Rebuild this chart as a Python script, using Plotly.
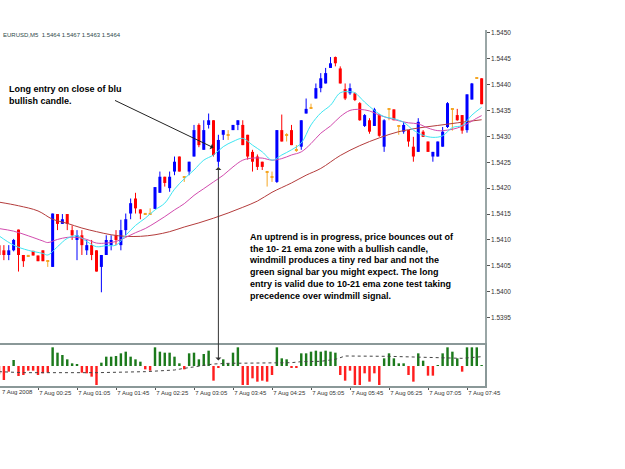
import plotly.graph_objects as go

# ---------------- data (EURUSD M5, bar index 0 = 23:45) ----------------
bar_idx = list(range(100))
opens = [1.54090,1.54080,1.54071,1.54080,1.54120,1.54071,1.54070,1.54079,1.54070,1.54080,
         1.54059,1.54048,1.54150,1.54131,1.54150,1.54119,1.54100,1.54109,1.54080,1.54090,
         1.54080,1.54048,1.54071,1.54090,1.54109,1.54090,1.54119,1.54151,1.54180,1.54159,
         1.54151,1.54151,1.54160,1.54191,1.54222,1.54200,1.54232,1.54261,1.54222,1.54232,
         1.54261,1.54322,1.54274,1.54322,1.54331,1.54251,1.54303,1.54303,1.54312,1.54322,
         1.54322,1.54303,1.54270,1.54261,1.54251,1.54232,1.54222,1.54212,1.54312,1.54303,
         1.54312,1.54274,1.54280,1.54344,1.54355,1.54373,1.54393,1.54402,1.54432,1.54453,
         1.54431,1.54391,1.54383,1.54383,1.54364,1.54320,1.54331,1.54320,1.54341,1.54280,
         1.54352,1.54352,1.54320,1.54309,1.54312,1.54280,1.54270,1.54309,1.54290,1.54261,
         1.54261,1.54280,1.54318,1.54353,1.54341,1.54341,1.54312,1.54371,1.54412,1.54412]
highs = [1.54095,1.54090,1.54090,1.54102,1.54120,1.54071,1.54070,1.54079,1.54070,1.54080,
         1.54059,1.54151,1.54150,1.54150,1.54150,1.54128,1.54119,1.54119,1.54100,1.54100,
         1.54080,1.54071,1.54109,1.54109,1.54119,1.54139,1.54151,1.54180,1.54191,1.54159,
         1.54151,1.54161,1.54202,1.54232,1.54222,1.54232,1.54261,1.54261,1.54222,1.54251,
         1.54322,1.54325,1.54331,1.54344,1.54331,1.54303,1.54312,1.54312,1.54322,1.54331,
         1.54331,1.54303,1.54274,1.54265,1.54251,1.54232,1.54232,1.54312,1.54342,1.54306,
         1.54322,1.54283,1.54331,1.54373,1.54363,1.54402,1.54422,1.54432,1.54453,1.54454,
         1.54435,1.54402,1.54402,1.54385,1.54366,1.54343,1.54335,1.54355,1.54343,1.54333,
         1.54352,1.54352,1.54320,1.54328,1.54312,1.54299,1.54335,1.54312,1.54290,1.54270,
         1.54290,1.54318,1.54366,1.54353,1.54353,1.54341,1.54381,1.54403,1.54412,1.54412]
lows = [1.54060,1.54061,1.54061,1.54078,1.54039,1.54048,1.54070,1.54070,1.54059,1.54059,
        1.54048,1.54048,1.54119,1.54131,1.54119,1.54100,1.54061,1.54071,1.54071,1.54061,
        1.54039,1.53999,1.54071,1.54080,1.54090,1.54080,1.54109,1.54140,1.54151,1.54140,
        1.54151,1.54151,1.54160,1.54191,1.54203,1.54193,1.54225,1.54232,1.54212,1.54225,
        1.54261,1.54279,1.54274,1.54315,1.54261,1.54241,1.54293,1.54293,1.54312,1.54312,
        1.54283,1.54255,1.54232,1.54235,1.54235,1.54203,1.54212,1.54210,1.54290,1.54290,
        1.54283,1.54270,1.54274,1.54344,1.54355,1.54373,1.54385,1.54402,1.54432,1.54435,
        1.54402,1.54370,1.54380,1.54368,1.54330,1.54318,1.54305,1.54320,1.54299,1.54270,
        1.54331,1.54331,1.54303,1.54305,1.54280,1.54251,1.54270,1.54299,1.54270,1.54251,
        1.54261,1.54280,1.54316,1.54311,1.54330,1.54305,1.54307,1.54371,1.54412,1.54362]
closes = [1.54071,1.54071,1.54080,1.54100,1.54071,1.54059,1.54070,1.54070,1.54059,1.54059,
          1.54059,1.54151,1.54131,1.54140,1.54131,1.54109,1.54109,1.54090,1.54090,1.54071,
          1.54039,1.54071,1.54100,1.54100,1.54100,1.54119,1.54140,1.54171,1.54161,1.54151,
          1.54151,1.54151,1.54202,1.54222,1.54210,1.54222,1.54251,1.54232,1.54222,1.54251,
          1.54312,1.54283,1.54312,1.54331,1.54264,1.54293,1.54312,1.54303,1.54322,1.54331,
          1.54283,1.54261,1.54251,1.54241,1.54241,1.54232,1.54222,1.54312,1.54290,1.54303,
          1.54283,1.54274,1.54331,1.54353,1.54355,1.54393,1.54412,1.54422,1.54441,1.54441,
          1.54402,1.54373,1.54393,1.54370,1.54331,1.54341,1.54309,1.54352,1.54301,1.54331,
          1.54352,1.54331,1.54320,1.54322,1.54290,1.54261,1.54328,1.54299,1.54270,1.54270,
          1.54290,1.54309,1.54364,1.54353,1.54331,1.54311,1.54381,1.54402,1.54412,1.54362]

# moving averages (bar index, price)
ema10_idx = [0,3,6,9,10,12,14,16,18,20,22,24,26,28,30,32,34,36,38,40,42,44,46,48,50,52,54,56,58,60,
             62,64,66,68,70,72,73,75,77,79,81,83,85,87,89,91,93,95,97,99]
ema10 = [1.54108,1.54090,1.54080,1.54074,1.54071,1.54087,1.54103,1.54108,1.54097,1.54087,1.54089,1.54090,
         1.54109,1.54128,1.54142,1.54158,1.54171,1.54198,1.54218,1.54235,1.54254,1.54264,1.54280,1.54290,
         1.54296,1.54283,1.54270,1.54254,1.54264,1.54274,1.54287,1.54322,1.54345,1.54360,1.54384,1.54386,
         1.54384,1.54366,1.54350,1.54338,1.54334,1.54327,1.54312,1.54302,1.54298,1.54301,1.54317,1.54321,
         1.54341,1.54356]
ema21_idx = [0,3,6,9,10,12,14,16,18,20,22,24,26,28,30,32,34,36,38,40,42,44,46,48,50,52,54,56,58,60,
             62,64,66,68,70,72,74,76,78,80,82,84,86,88,90,92,94,96,98,99]
ema21 = [1.54122,1.54117,1.54108,1.54098,1.54095,1.54101,1.54105,1.54105,1.54101,1.54094,1.54094,1.54097,
         1.54105,1.54114,1.54122,1.54133,1.54145,1.54158,1.54170,1.54186,1.54199,1.54212,1.54225,1.54241,
         1.54254,1.54258,1.54258,1.54254,1.54257,1.54264,1.54270,1.54286,1.54306,1.54320,1.54338,1.54350,
         1.54352,1.54349,1.54341,1.54335,1.54330,1.54326,1.54324,1.54316,1.54311,1.54312,1.54316,1.54324,
         1.54335,1.54340]
ema_slow_idx = [0,4,8,11,14,17,20,23,26,29,32,35,38,41,44,47,50,53,56,60,63,66,70,74,78,82,86,90,94,99]
ema_slow = [1.54173,1.54166,1.54156,1.54140,1.54132,1.54123,1.54116,1.54110,1.54107,1.54107,1.54110,
            1.54116,1.54125,1.54133,1.54142,1.54152,1.54163,1.54175,1.54192,1.54210,1.54225,1.54238,
            1.54263,1.54282,1.54297,1.54309,1.54316,1.54321,1.54326,1.54332]

# windmill histogram and its dotted signal
windmill = [-25,-42,-17,18,-30,-27,-14,-14,-27,-22,-20,56,40,33,20,8,5,-20,-22,-32,
            -57,10,28,28,30,38,43,28,20,13,-10,-14,56,43,40,40,28,8,-10,38,
            40,20,36,46,-44,-4,20,8,40,56,-57,-57,-37,-47,-44,-47,-27,56,23,20,
            -5,-6,38,38,43,46,43,46,43,40,-27,-44,-14,-57,-57,-22,-47,-22,-57,23,
            38,23,8,8,-27,-47,38,16,-29,-29,3,38,56,43,23,-17,56,56,56,3]
signal_idx = [0,5,10,20,30,36,38,41,44,47,57,60,62,66,69,71,80,87,92,95,99]
signal = [-17,-20,-20,-20,-17,-12,-7,0,6,8,8,10,13,14,20,30,29,26,23,23,28]

price_ticks = [1.5395,1.5400,1.5405,1.5410,1.5415,1.5420,1.5425,1.5430,1.5435,1.5440,1.5445,1.5450]
tick_idx = [8,16,24,32,40,48,56,64,72,80,88,96]
tick_text = ["7 Aug 00:25","7 Aug 01:05","7 Aug 01:45","7 Aug 02:25","7 Aug 03:05","7 Aug 03:45",
             "7 Aug 04:25","7 Aug 05:05","7 Aug 05:45","7 Aug 06:25","7 Aug 07:05","7 Aug 07:45"]
first_label = "7 Aug 2008"
header = "EURUSD,M5  1.5464 1.5467 1.5463 1.5464"
entry_idx = 45
note1 = "<b>Long entry on close of blu<br>bullish candle.</b>"
note2 = ("<b>An uptrend is in progress, price bounces out of<br>"
         "the 10- 21 ema zone with a bullish candle,<br>"
         "windmill produces a tiny red bar and not the<br>"
         "green signal bar you might expect. The long<br>"
         "entry is valid due to 10-21 ema zone test taking<br>"
         "precedence over windmill signal.</b>")

# ---------------- styling ----------------
W, H = 625, 469
BLUE, RED, ORANGE = "#0000FF", "#FF0000", "#F5A623"
GREEN_H, RED_H = "#1C7A1C", "#FF1E1E"
AXC = "#9AA6A6"
FONT = "Liberation Sans, Arial, sans-serif"

def py(p):  # pixel row -> paper fraction
    return (H - p) / H

up = [i for i in bar_idx if closes[i] > opens[i]]
dn = [i for i in bar_idx if closes[i] < opens[i]]
dj = [i for i in bar_idx if closes[i] == opens[i]]

fig = go.Figure()

def wick(idx, color):
    xs, ys = [], []
    for i in idx:
        xs += [i, i, None]
        ys += [lows[i], highs[i], None]
    fig.add_trace(go.Scatter(x=xs, y=ys, mode="lines", line=dict(color=color, width=1),
                             hoverinfo="skip", xaxis="x", yaxis="y"))

wick(up, BLUE)
wick(dn, RED)
wick(dj, ORANGE)
fig.add_trace(go.Bar(x=up, base=[opens[i] for i in up], y=[closes[i] - opens[i] for i in up],
                     width=0.62, marker=dict(color=BLUE, line=dict(width=0)), xaxis="x", yaxis="y"))
fig.add_trace(go.Bar(x=dn, base=[closes[i] for i in dn], y=[opens[i] - closes[i] for i in dn],
                     width=0.62, marker=dict(color=RED, line=dict(width=0)), xaxis="x", yaxis="y"))
fig.add_trace(go.Bar(x=dj, base=[opens[i] - 0.000012 for i in dj], y=[0.000024 for i in dj],
                     width=0.62, marker=dict(color=ORANGE, line=dict(width=0)), xaxis="x", yaxis="y"))

fig.add_trace(go.Scatter(x=ema_slow_idx, y=ema_slow, mode="lines", line=dict(color="#B43C3C", width=1, shape="spline"),
                         xaxis="x", yaxis="y"))
fig.add_trace(go.Scatter(x=ema21_idx, y=ema21, mode="lines", line=dict(color="#D24BAE", width=1, shape="spline"),
                         xaxis="x", yaxis="y"))
fig.add_trace(go.Scatter(x=ema10_idx, y=ema10, mode="lines", line=dict(color="#3EE6F2", width=1, shape="spline"),
                         xaxis="x", yaxis="y"))

# windmill panel
fig.add_trace(go.Bar(x=bar_idx, y=windmill, width=0.5,
                     marker=dict(color=[GREEN_H if v >= 0 else RED_H for v in windmill], line=dict(width=0)),
                     xaxis="x2", yaxis="y2"))
fig.add_trace(go.Scatter(x=signal_idx, y=signal, mode="lines", line=dict(color="#444444", width=1, dash="dot"),
                         xaxis="x2", yaxis="y2"))

XR = [0.205, 99.69]
XD = [0, 485 / W]
fig.update_layout(
    width=W, height=H, margin=dict(l=0, r=0, t=0, b=0, autoexpand=False),
    paper_bgcolor="white", plot_bgcolor="white", showlegend=False,
    barmode="overlay", font=dict(family=FONT, color="#222"),
    xaxis=dict(domain=XD, range=XR, visible=False, anchor="y", automargin=False),
    yaxis=dict(domain=[py(344), py(30)], range=[1.538992, 1.545052], side="right", anchor="x",
               showline=True, linecolor=AXC, linewidth=1.5, ticks="outside", ticklen=3, tickcolor="#555",
               tickvals=price_ticks, tickformat=".4f", showgrid=False, zeroline=False,
               automargin=False, tickfont=dict(size=6.5, color="#333")),
    xaxis2=dict(domain=XD, range=XR, anchor="y2", showline=True, mirror=True, linecolor="#8A9898",
                linewidth=1.5, ticks="outside", ticklen=2, tickcolor="#555", tickvals=tick_idx,
                ticktext=tick_text, ticklabelposition="outside right", tickangle=0, automargin=False,
                showgrid=False, zeroline=False, tickfont=dict(size=6, color="#333")),
    yaxis2=dict(domain=[py(386), py(345)], range=[-60, 63], anchor="x2", showline=True, mirror=True,
                linecolor="#8A9898", linewidth=1.5, showticklabels=False, ticks="", showgrid=False,
                zeroline=False, automargin=False),
)

ann = [
    dict(xref="paper", yref="paper", x=1 / W, y=py(35), xanchor="left", yanchor="middle", text=header,
         showarrow=False, font=dict(size=6, color="#2E4A4A")),
    dict(xref="paper", yref="paper", x=0, y=py(392), xanchor="left", yanchor="middle", text=first_label,
         showarrow=False, font=dict(size=6, color="#333")),
    dict(xref="paper", yref="paper", x=7 / W, y=py(82), xanchor="left", yanchor="top", align="left",
         text=note1, showarrow=False, font=dict(size=9, color="black")),
    dict(xref="paper", yref="paper", x=247 / W, y=py(230), xanchor="left", yanchor="top", align="left",
         text=note2, showarrow=False, font=dict(size=9, color="black")),
    # arrow from note to the candles
    dict(xref="x", yref="y", x=entry_idx - 1, y=1.54278, axref="pixel", ayref="pixel", ax=-100, ay=-48,
         text="", showarrow=True, arrowhead=1, arrowsize=1, arrowwidth=1, arrowcolor="#222"),
    # vertical double arrow below the entry candle
    dict(xref="x", yref="y", x=entry_idx, y=lows[entry_idx], axref="pixel", ayref="pixel", ax=0, ay=195,
         text="", showarrow=True, arrowhead=1, startarrowhead=1, arrowside="end+start",
         arrowsize=1, arrowwidth=1, arrowcolor="#333"),
]
fig.update_layout(annotations=ann)

fig.write_html("out.html")
